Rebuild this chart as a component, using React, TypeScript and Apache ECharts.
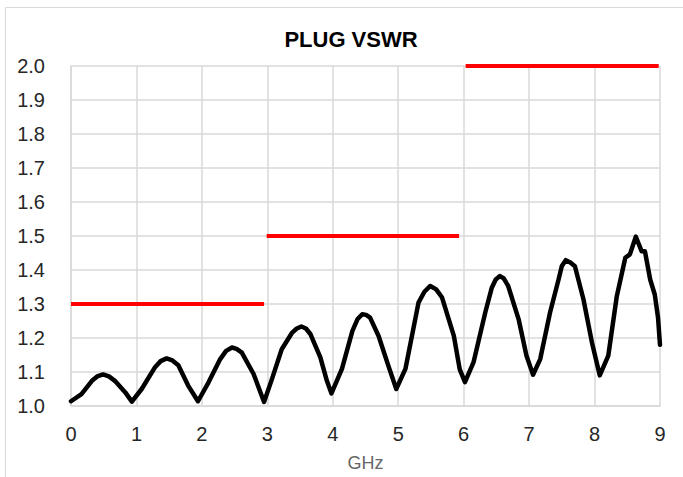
import React, { useEffect, useRef } from "react";
import * as echarts from "echarts";

const TITLE = "PLUG VSWR";
const X_NAME = "GHz";

// Measured VSWR trace: frequency (GHz) and VSWR value
const freqGHz = [
  0.0, 0.16, 0.32, 0.4, 0.49, 0.58, 0.67, 0.83, 0.93, 1.08, 1.28, 1.37, 1.46,
  1.55, 1.64, 1.79, 1.94, 2.1, 2.28, 2.37, 2.46, 2.53, 2.61, 2.79, 2.95, 3.07,
  3.22, 3.38, 3.45, 3.52, 3.59, 3.66, 3.81, 3.91, 3.98, 4.14, 4.3, 4.38, 4.45,
  4.51, 4.57, 4.7, 4.85, 4.97, 5.11, 5.31, 5.4, 5.49, 5.58, 5.67, 5.85, 5.94,
  6.02, 6.15, 6.33, 6.43, 6.49, 6.55, 6.61, 6.68, 6.84, 6.96, 7.06, 7.17, 7.32,
  7.45, 7.5, 7.56, 7.63, 7.7, 7.83, 7.96, 8.08, 8.21, 8.34, 8.47, 8.54, 8.63,
  8.72, 8.77, 8.85, 8.92, 8.97, 9.0,
];
const vswr = [
  1.014, 1.035, 1.074, 1.087, 1.093, 1.087, 1.074, 1.04, 1.013, 1.05, 1.113,
  1.132, 1.14, 1.134, 1.12, 1.06, 1.014, 1.069, 1.138, 1.162, 1.172, 1.168,
  1.157, 1.094, 1.012, 1.079, 1.167, 1.216, 1.228, 1.234, 1.228, 1.211, 1.143,
  1.074, 1.037, 1.109, 1.221, 1.256, 1.27, 1.268, 1.26, 1.206, 1.118, 1.05,
  1.109, 1.304, 1.336, 1.353, 1.343, 1.319, 1.206, 1.108, 1.07, 1.128, 1.275,
  1.348, 1.372, 1.382, 1.376, 1.353, 1.255, 1.148, 1.092, 1.138, 1.275, 1.372,
  1.412, 1.429, 1.422, 1.411, 1.314, 1.187, 1.09, 1.148, 1.323, 1.436, 1.446,
  1.498, 1.455, 1.455, 1.372, 1.328, 1.26, 1.18,
];

// Limit lines: [startGHz, endGHz, limit]
const limitStart = [0.0, 2.99, 6.03];
const limitEnd = [2.95, 5.93, 8.98];
const limitValue = [1.3, 1.5, 2.0];

const yMin = 1.0;
const yMax = 2.0;
const yStep = 0.1;
const xMin = 0;
const xMax = 9;
const xStep = 1;

const SANS = "'Liberation Sans', Arial, sans-serif";

export default function App() {
  const ref = useRef<HTMLDivElement>(null);

  useEffect(() => {
    if (!ref.current) return;
    const chart = echarts.init(ref.current, null, { renderer: "svg" });

    const curve = freqGHz.map((f, i) => [f, vswr[i]]);
    const limitSeries = limitValue.map((v, i) => ({
      type: "line",
      data: [
        [limitStart[i], v],
        [limitEnd[i], v],
      ],
      symbol: "none",
      lineStyle: { color: "#ff0000", width: 4 },
      z: 3,
    }));

    chart.setOption({
      animation: false,
      backgroundColor: "#ffffff",
      title: {
        text: TITLE,
        left: 346,
        top: 23,
        textAlign: "center",
        textStyle: {
          fontFamily: SANS,
          fontWeight: "bold",
          fontSize: 22,
          color: "#000000",
        },
      },
      graphic: [
        {
          type: "rect",
          shape: { x: 5.5, y: 7.5, width: 720, height: 520 },
          style: { fill: "none", stroke: "#d9d9d9", lineWidth: 1 },
          silent: true,
        },
      ],
      grid: { left: 71, right: 23, top: 66, bottom: 70 },
      xAxis: {
        type: "value",
        min: xMin,
        max: xMax,
        interval: xStep,
        name: X_NAME,
        nameLocation: "middle",
        nameGap: 48,
        nameTextStyle: { fontFamily: SANS, fontSize: 18, color: "#666666" },
        axisLine: { show: true, lineStyle: { color: "#d9d9d9", width: 1.5 } },
        axisTick: { show: false },
        axisLabel: {
          margin: 18,
          fontFamily: SANS,
          fontSize: 20,
          color: "#262626",
        },
        splitLine: { show: true, lineStyle: { color: "#d9d9d9", width: 1.5 } },
      },
      yAxis: {
        type: "value",
        min: yMin,
        max: yMax,
        interval: yStep,
        axisLine: { show: true, lineStyle: { color: "#d9d9d9", width: 1.5 } },
        axisTick: { show: false },
        axisLabel: {
          margin: 26,
          fontFamily: SANS,
          fontSize: 20,
          color: "#262626",
          formatter: (v: number) => v.toFixed(1),
        },
        splitLine: { show: true, lineStyle: { color: "#d9d9d9", width: 1.5 } },
      },
      series: [
        ...limitSeries,
        {
          type: "line",
          data: curve,
          symbol: "none",
          smooth: false,
          lineStyle: { color: "#000000", width: 4.5, join: "round", cap: "round" },
          z: 4,
        },
      ],
    });

    return () => chart.dispose();
  }, []);

  return (
    <div
      ref={ref}
      style={{ position: "fixed", left: 0, top: 0, width: 683, height: 477, background: "#fff" }}
    />
  );
}
